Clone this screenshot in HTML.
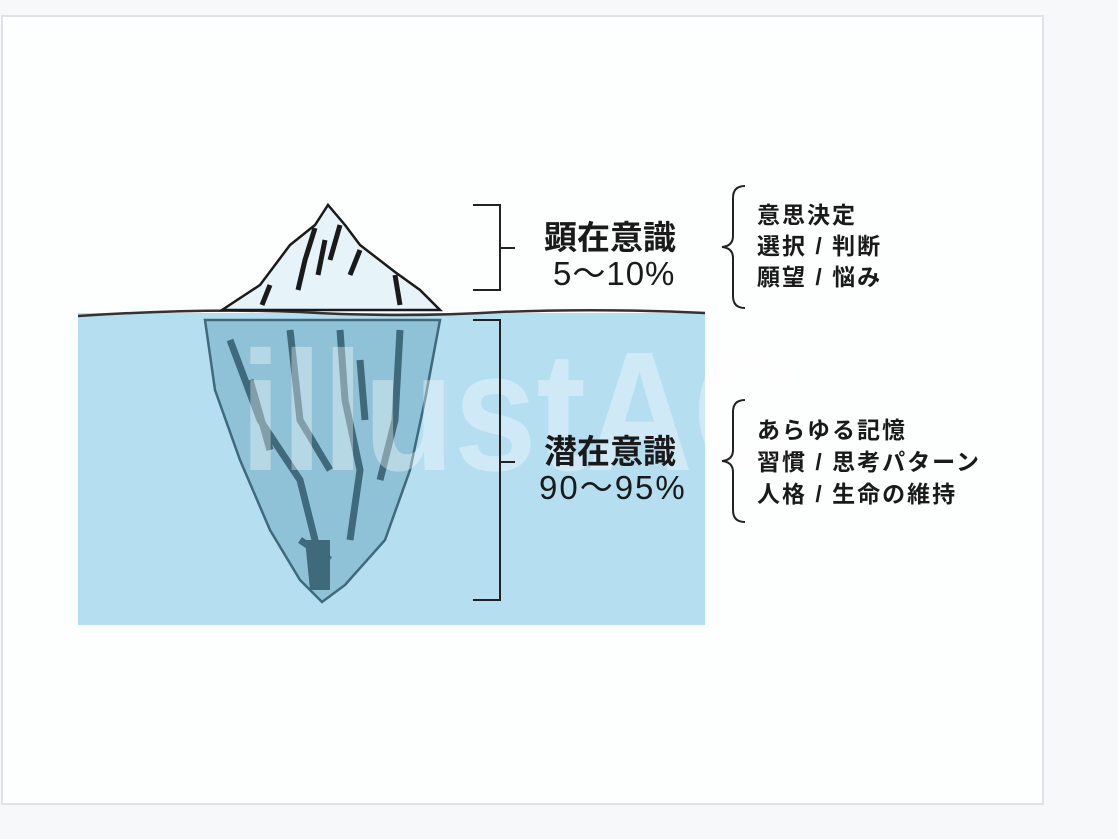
<!DOCTYPE html>
<html><head><meta charset="utf-8"><style>
body{margin:0;width:1118px;height:839px;background:#f7f8fa;overflow:hidden;font-family:"Liberation Sans","Noto Sans CJK JP",sans-serif}
.frame{position:absolute;left:1px;top:15px;width:1043px;height:790px;background:#fdfefe;border:2px solid #dfe2e6;box-sizing:border-box}
.t{position:absolute;color:#1a1a1a;font-weight:bold;white-space:nowrap}
</style></head><body>
<div class="frame"></div>
<svg width="1118" height="839" style="position:absolute;left:0;top:0">
<rect x="78" y="313" width="627" height="312" fill="#b5dff1"/>
<path d="M78 316 Q200 308 300 312 Q400 318 500 312 Q600 308 705 313" fill="none" stroke="#333" stroke-width="2.5"/>
<path d="M222 310 L260 285 L290 245 L315 225 L328 205 L345 225 L360 245 L395 272 L420 290 L440 310 Z" fill="#e6f3f8" stroke="#1a1a1a" stroke-width="2.5"/>
<path d="M315 228 L305 260 L298 290 M340 225 L330 260 M360 250 L350 275 M395 275 L400 305 M270 285 L262 305 M325 240 L318 275" stroke="#1a1a1a" stroke-width="5" fill="none"/>
<path d="M205 320 L440 320 L425 400 L410 470 L385 540 L345 585 L322 602 L300 580 L270 530 L240 460 L215 390 Z" fill="#8fc2d6" stroke="#3e6a7c" stroke-width="2.5"/>
<path d="M230 340 L260 420 L300 480 L320 560 M290 330 L300 420 L330 470 M340 330 L345 400 L360 470 L350 540 M400 330 L395 420 L380 480 M250 380 L270 450 M360 360 L365 420 M300 540 L330 560" stroke="#3e6a7c" stroke-width="7" fill="none"/>
<path d="M305 540 L330 540 L330 590 L310 590 Z" fill="#3e6a7c"/>
<text x="240" y="470" font-family="Liberation Sans,sans-serif" font-size="170" fill="#ffffff" fill-opacity="0.35" font-weight="bold" textLength="560" lengthAdjust="spacingAndGlyphs">illustAC</text>
<path d="M473 205 H500 V290 H473 M500 248 H515" fill="none" stroke="#222" stroke-width="2"/>
<path d="M473 320 H500 V600 H473 M500 462 H515" fill="none" stroke="#222" stroke-width="2"/>
<path d="M745 186 Q733 186 733 198 V236 Q733 246 722 247 Q733 248 733 258 V296 Q733 308 745 308" fill="none" stroke="#222" stroke-width="2"/>
<path d="M745 400 Q733 400 733 412 V450 Q733 460 722 461 Q733 462 733 472 V510 Q733 522 745 522" fill="none" stroke="#222" stroke-width="2"/>
</svg>
<div class="t" style="left:544px;top:211px;font-size:33px">顕在意識</div>
<div class="t" style="left:553px;top:247px;font-size:33px;font-weight:normal;letter-spacing:1px">5〜10%</div>
<div class="t" style="left:544px;top:425px;font-size:33px">潜在意識</div>
<div class="t" style="left:539px;top:461px;font-size:33px;font-weight:normal;letter-spacing:2px">90〜95%</div>
<div class="t" style="left:757px;top:200px;font-size:23px;line-height:31px;letter-spacing:2px">意思決定<br>選択 / 判断<br>願望 / 悩み</div>
<div class="t" style="left:757px;top:414px;font-size:23px;line-height:32px;letter-spacing:2px">あらゆる記憶<br>習慣 / 思考パターン<br>人格 / 生命の維持</div>
</body></html>
